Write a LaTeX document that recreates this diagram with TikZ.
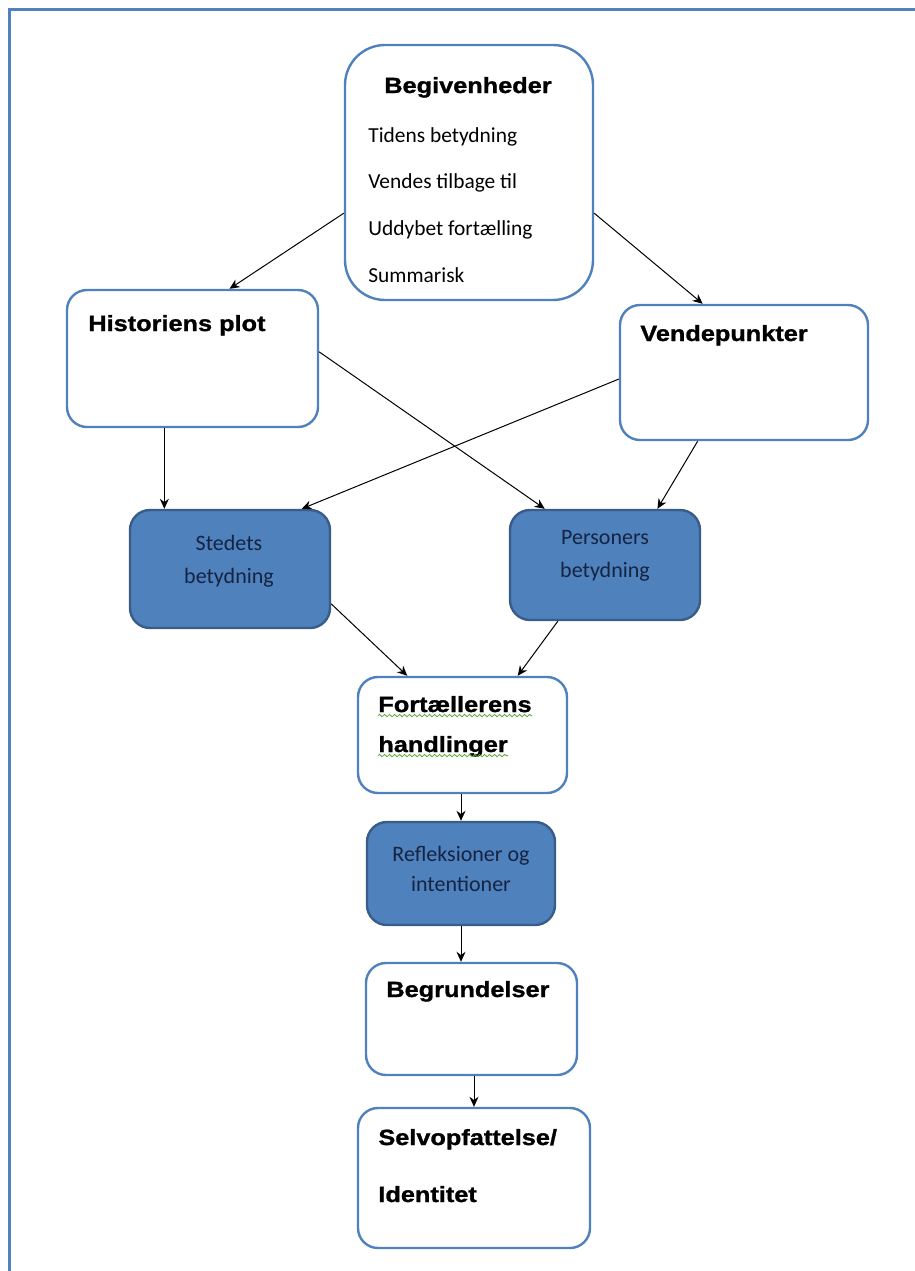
\documentclass[tikz,border=0pt]{standalone}
\usepackage{fontspec}
\setmainfont{Carlito}
\newfontfamily\headfont[FakeStretch=1.15, BoldFeatures={FakeBold=1.2}]{Liberation Sans}
\usetikzlibrary{positioning,arrows.meta,decorations.pathmorphing}
\definecolor{boxblue}{RGB}{79,129,189}
\definecolor{boxdark}{RGB}{56,93,138}
\definecolor{textnavy}{RGB}{20,36,66}
\definecolor{squiggle}{RGB}{90,170,60}
\begin{document}
\begin{tikzpicture}[x=0.5pt, y=-0.5pt,
          every node/.style = {inner sep=0pt},
          box/.style 2 args = {draw=boxblue, line width=1.2pt, fill=white, rounded corners=10pt,
                               minimum width=#1*0.5pt, minimum height=#2*0.5pt},
          darkbox/.style 2 args = {box={#1}{#2}, draw=boxdark, fill=boxblue},
          head/.style = {font=\headfont\bfseries\fontsize{11}{12}\selectfont, anchor=base west},
          body/.style = {font=\fontsize{10.7}{12}\selectfont, anchor=base west},
          darktext/.style = {font=\fontsize{11}{16.5}\selectfont, text=textnavy, align=center},
          arr/.style = {-{Stealth[length=5pt,width=4.5pt]}, line width=0.5pt},
          wavy/.style = {draw=squiggle, line width=0.4pt, decorate,
                         decoration={snake, amplitude=0.6pt, segment length=2.5pt}}]
          \useasboundingbox (0,0) rectangle (915,1271);
          % frame
          \draw[boxblue, line width=1.5pt] (9,1271) -- (9,9) -- (915,9);
          % boxes
          \node[box={248}{255}, rounded corners=20pt] (beg) at (469,172.5) {};
          \node[box={251}{137}] (hist) at (192.5,358.5) {};
          \node[box={248}{135}] (vend) at (744,372.5) {};
          \node[darkbox={200}{118}] (sted) at (230,569) {};
          \node[darkbox={190}{110}] (pers) at (605,565) {};
          \node[box={209}{116}] (fort) at (462.5,735) {};
          \node[darkbox={188}{103}] (refl) at (461,873.5) {};
          \node[box={211}{112}] (begr) at (471.5,1019) {};
          \node[box={232}{140}] (selv) at (474,1178) {};
          % texts
          \node[head, anchor=base] (begT) at (468,93) {Begivenheder};
          \node[body] (begA) at (368,142) {Tidens betydning};
          \node[body] (begB) at (368,188) {Vendes tilbage til};
          \node[body] (begC) at (368,235) {Uddybet fortælling};
          \node[body] (begD) at (368,282) {Summarisk};
          \node[head] (histT) at (88,331) {Historiens plot};
          \node[head] (vendT) at (640,341) {Vendepunkter};
          \node[darktext] (stedT) at (229,561) {Stedets\\betydning};
          \node[darktext] (persT) at (605,556) {Personers\\betydning};
          \node[head] (fortA) at (378,712) {Fortællerens};
          \node[head] (fortB) at (378,752) {handlinger};
          \node[darktext, font=\fontsize{11}{15}\selectfont] (reflT) at (461,869) {Refleksioner og\\intentioner};
          \node[head] (begrT) at (386,997) {Begrundelser};
          \node[head] (selvA) at (378,1145) {Selvopfattelse/};
          \node[head] (selvB) at (378,1202) {Identitet};
          % spelling marks
          \draw[wavy] ([yshift=-1.8pt]fortA.base west) -- ([yshift=-1.8pt]fortA.base east);
          \draw[wavy] ([yshift=-1.8pt]fortB.base west) -- ([yshift=-1.8pt]fortB.base east);
          % arrows
          \draw[arr] (beg.198) -- (hist.62.6);
          \draw[arr] (beg.-18) -- (vend.121.3);
          \draw[arr] (hist.248) -- (hist.248 |- sted.north);
          \draw[arr] (hist.3) -- (pers.137.5);
          \draw[arr] (vend.183) -- (sted.40);
          \draw[arr] (vend.236.9) -- (pers.47.7);
          \draw[arr] (sted.-19.8) -- (fort.133.8);
          \draw[arr] (pers.230.7) -- (fort.47.8);
          \draw[arr] (refl.north |- fort.south) -- (refl.north);
          \draw[arr] (refl.south) -- (refl.south |- begr.north);
          \draw[arr] (begr.south -| selv.north) -- (selv.north);
        \end{tikzpicture}
\end{document}
